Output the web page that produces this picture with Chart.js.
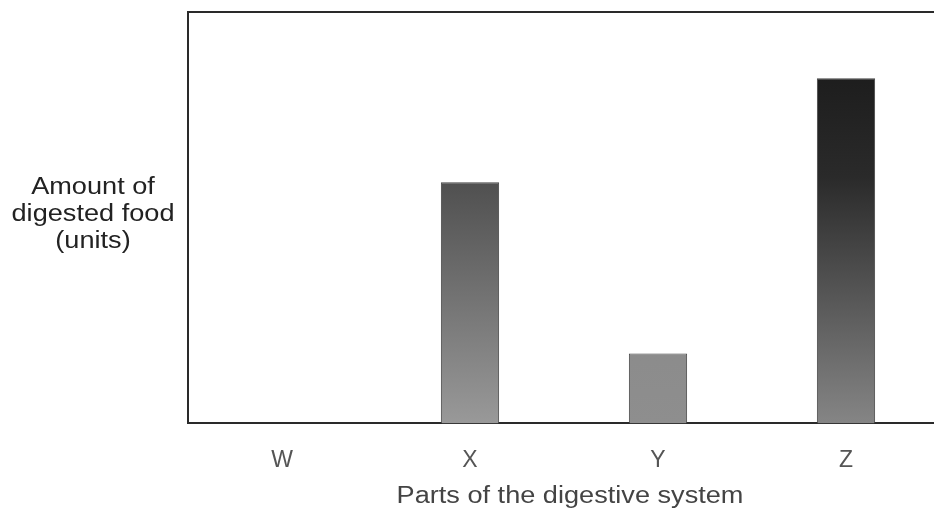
<!DOCTYPE html>
<html>
<head>
<meta charset="utf-8">
<script src="https://cdn.jsdelivr.net/npm/chart.js"></script>
<style>
  html, body { margin: 0; padding: 0; background: #fff; overflow: hidden; }
  #wrap { width: 934px; height: 515px; overflow: hidden; }
</style>
</head>
<body>
<div id="wrap"><canvas id="digestChart" width="940" height="515"></canvas></div>
<script>
// data (arbitrary units, axis has no numbers)
var parts = ['W', 'X', 'Y', 'Z'];
var amounts = [0, 5.86, 1.70, 8.39];
var yLabelLines = ['Amount of', 'digested food', '(units)'];
var xTitle = 'Parts of the digestive system';

// gradient stops per bar: top, middle, bottom
var shades = [
  ['#777', '#666', '#888'],
  ['#7a7a7a', '#4e4e4e', '#999'],
  ['#8a8a8a', '#868686', '#8e8e8e'],
  ['#151515', '#2a2a2a', '#858585']
];

function barFill(context) {
  var chart = context.chart;
  var area = chart.chartArea;
  if (!area) return '#777';
  var el = context.element;
  var s = shades[context.dataIndex];
  var top = el && el.y ? el.y : area.top;
  var g = chart.ctx.createLinearGradient(0, top, 0, area.bottom);
  g.addColorStop(0, s[0]);
  g.addColorStop(0.4, s[1]);
  g.addColorStop(1, s[2]);
  return g;
}

var FONT = "'Liberation Sans', Arial, sans-serif";

// text in the scan looks a bit stretched sideways
function wideText(ctx, t, x, y, sx) {
  ctx.save();
  ctx.translate(x, y);
  ctx.scale(sx, 1);
  ctx.fillText(t, 0, 0);
  ctx.restore();
}

var frame = {
  id: 'frame',
  afterDraw: function(chart) {
    var ctx = chart.ctx, a = chart.chartArea;
    ctx.save();
    ctx.strokeStyle = '#2a2a2a';
    ctx.lineWidth = 2;
    ctx.beginPath();
    ctx.moveTo(a.left, a.top);
    ctx.lineTo(a.right, a.top);
    ctx.stroke();

    ctx.textAlign = 'center';
    ctx.textBaseline = 'middle';
    ctx.font = '23px ' + FONT;
    ctx.fillStyle = '#222';
    yLabelLines.forEach(function(t, i) {
      wideText(ctx, t, 93, 188 + i * 27, 1.18);
    });
    ctx.fillStyle = '#444';
    wideText(ctx, xTitle, 570, 497, 1.18);
    ctx.restore();
  }
};

var ctx = document.getElementById('digestChart').getContext('2d');
var chart = new Chart(ctx, {
  type: 'bar',
  data: {
    labels: parts,
    datasets: [{
      data: amounts,
      backgroundColor: barFill,
      borderColor: '#444',
      borderWidth: 1,
      barPercentage: 0.31,
      categoryPercentage: 1.0
    }]
  },
  options: {
    responsive: false,
    animation: false,
    layout: { padding: { left: 180, top: 12, right: 0, bottom: 26 } },
    plugins: { legend: { display: false }, tooltip: { enabled: false } },
    scales: {
      x: {
        grid: { display: false },
        border: { display: true, color: '#2a2a2a', width: 2 },
        ticks: {
          color: '#555',
          padding: 15,
          font: { size: 23, family: FONT }
        }
      },
      y: {
        min: 0,
        max: 10,
        grid: { display: false },
        border: { display: true, color: '#2a2a2a', width: 2 },
        ticks: { display: false }
      }
    }
  },
  plugins: [frame]
});
</script>
</body>
</html>
